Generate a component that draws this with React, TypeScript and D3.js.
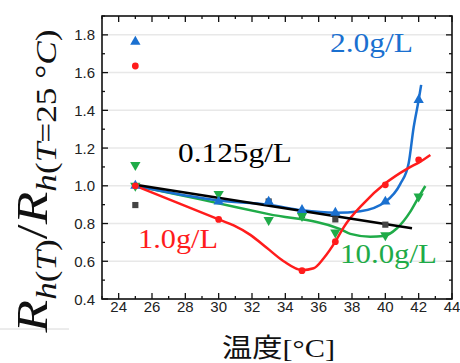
import React from "react";
import * as d3 from "d3";

// axis ticks
const xTickLabels = [24, 26, 28, 30, 32, 34, 36, 38, 40, 42, 44];
const yTickLabels = [0.4, 0.6, 0.8, 1.0, 1.2, 1.4, 1.6, 1.8];

// measured points [temp, ratio]
const blueMarks = [[25, 1.0], [30, 0.916], [33, 0.916], [35, 0.872], [37, 0.857], [40, 0.916], [42, 1.455]];
const redMarks = [[25, 1.0], [30, 0.822], [35, 0.55], [37, 0.704], [40, 1.005], [42, 1.138]];
const greenMarks = [[25, 1.0], [30, 0.957], [33, 0.819], [35, 0.84], [37, 0.752], [40, 0.738], [42, 0.943]];
const blackMarks = [[33, 0.917], [35, 0.845], [37, 0.822], [40, 0.794]];
// first readings at 25 C (before normalising)
const firstBlue = [[25, 1.764]];
const firstRed = [[25, 1.635]];
const firstGreen = [[25, 1.11]];
const firstBlack = [[25, 0.898]];

// fitted curves
const blueFit = [[25, 1.0], [30, 0.922], [33, 0.9], [35, 0.87], [37, 0.857], [38.5, 0.865], [40, 0.915], [40.9, 1.01], [41.4, 1.12], [41.7, 1.31], [42.0, 1.455], [42.15, 1.535]];
const redFit = [[25, 1.0], [30, 0.822], [30.9, 0.79], [31.9, 0.74], [32.9, 0.67], [33.9, 0.6], [35, 0.553], [35.7, 0.563], [36.3, 0.616], [37, 0.704], [37.5, 0.78], [38.7, 0.907], [40, 1.013], [41.3, 1.09], [42.1, 1.128], [42.7, 1.163]];
const greenFit = [[25, 1.0], [28.9, 0.928], [33, 0.85], [37.3, 0.77], [37.9, 0.745], [39.1, 0.73], [39.9, 0.734], [40.7, 0.775], [41.5, 0.863], [42.0, 0.94], [42.4, 0.999]];
const blackFit = [[25, 1.005], [41.6, 0.775]];

const BLUE = "#1a70d0";
const RED = "#ff1c1c";
const GREEN = "#1fab48";

export default function App() {
  const width = 460, height = 363;
  const x = d3.scaleLinear().domain([23, 44]).range([102, 452]);
  const y = d3.scaleLinear().domain([0.4, 1.9]).range([299, 16]);

  const line = d3.line().x((d) => x(d[0])).y((d) => y(d[1])).curve(d3.curveMonotoneX);
  const straight = d3.line().x((d) => x(d[0])).y((d) => y(d[1]));

  const tri = d3.symbol(d3.symbolTriangle, 46)();
  const circ = d3.symbol(d3.symbolCircle, 36)();
  const sq = d3.symbol(d3.symbolSquare, 38)();

  const xMinor = d3.range(23, 45, 1);
  const yMinor = d3.range(0.4, 1.91, 0.1);

  const marks = (data, path, color, rot = 0) =>
    data.map((d, i) => (
      <path key={i} d={path} fill={color}
        transform={`translate(${x(d[0])},${y(d[1])}) rotate(${rot})`} />
    ));

  return (
    <svg width={width} height={height} style={{ position: "absolute", left: 0, top: 0 }}>
      <rect width={width} height={height} fill="#fff" />
      {/* grid */}
      {yTickLabels.map((v) => (
        <line key={v} x1={x(23)} x2={x(44)} y1={y(v)} y2={y(v)} stroke="#e8e8e8" strokeWidth={1.5} />
      ))}
      <line x1={0} x2={69} y1={329} y2={329} stroke="#d8d8d8" strokeWidth={1} />

      {/* curves */}
      <path d={line(greenFit)} fill="none" stroke={GREEN} strokeWidth={2.5} />
      <path d={line(blueFit)} fill="none" stroke={BLUE} strokeWidth={2.5} />
      <path d={line(redFit)} fill="none" stroke={RED} strokeWidth={2.5} />
      <path d={straight(blackFit)} fill="none" stroke="#000" strokeWidth={2.5} />

      {marks(blackMarks, sq, "#444")}
      {marks(firstBlack, sq, "#444")}
      {marks(greenMarks, tri, GREEN, 180)}
      {marks(firstGreen, tri, GREEN, 180)}
      {marks(blueMarks, tri, BLUE)}
      {marks(firstBlue, tri, BLUE)}
      {marks(redMarks, circ, RED)}
      {marks(firstRed, circ, RED)}

      {/* frame and ticks */}
      <rect x={x(23)} y={y(1.9)} width={x(44) - x(23)} height={y(0.4) - y(1.9)} fill="none" stroke="#111" strokeWidth={1.6} />
      {xMinor.map((v) => {
        const len = v % 2 === 0 ? 6 : 3;
        return (
          <g key={v}>
            <line x1={x(v)} x2={x(v)} y1={y(0.4)} y2={y(0.4) - len} stroke="#111" strokeWidth={1.3} />
            <line x1={x(v)} x2={x(v)} y1={y(1.9)} y2={y(1.9) + len} stroke="#111" strokeWidth={1.3} />
          </g>
        );
      })}
      {yMinor.map((v, i) => {
        const len = i % 2 === 0 ? 6 : 3;
        return (
          <g key={i}>
            <line x1={x(23)} x2={x(23) + len} y1={y(v)} y2={y(v)} stroke="#111" strokeWidth={1.3} />
            <line x1={x(44)} x2={x(44) - len} y1={y(v)} y2={y(v)} stroke="#111" strokeWidth={1.3} />
          </g>
        );
      })}

      {/* tick labels */}
      <g fontFamily="'Liberation Sans', Arial, sans-serif" fontSize={15} fill="#222">
        {xTickLabels.map((v) => (
          <text key={v} x={x(v)} y={312} textAnchor="middle">{v}</text>
        ))}
        {yTickLabels.map((v) => (
          <text key={v} x={95} y={y(v) + 5.5} textAnchor="end">{v.toFixed(1)}</text>
        ))}
      </g>

      {/* series labels */}
      <g fontFamily="'Liberation Serif', 'Times New Roman', serif" fontSize={27}>
        <text x={330} y={51.7} fill={BLUE} textLength={83} lengthAdjust="spacingAndGlyphs">2.0g/L</text>
        <text x={178} y={161.7} fill="#000" textLength={114} lengthAdjust="spacingAndGlyphs">0.125g/L</text>
        <text x={138} y={248.3} fill={RED} textLength={80} lengthAdjust="spacingAndGlyphs">1.0g/L</text>
        <text x={340} y={263.3} fill={GREEN} textLength={97} lengthAdjust="spacingAndGlyphs">10.0g/L</text>
      </g>

      {/* axis titles */}
      <text x={222} y={357} fontSize={26} fill="#111" textLength={113} lengthAdjust="spacingAndGlyphs">
        <tspan fontFamily="'Noto Sans CJK JP', sans-serif">温度</tspan>
        <tspan fontFamily="'Liberation Serif', serif">[°C]</tspan>
      </text>
      <text transform="translate(47,181) rotate(-90)" textAnchor="middle" fontFamily="'Liberation Serif', serif"
        fontSize={44} fill="#111" textLength={303} lengthAdjust="spacingAndGlyphs">
        <tspan fontStyle="italic">R</tspan>
        <tspan fontSize={29} dy={9}><tspan fontStyle="italic">h</tspan>(<tspan fontStyle="italic">T</tspan>)</tspan>
        <tspan dy={-9}>/</tspan>
        <tspan fontStyle="italic">R</tspan>
        <tspan fontSize={29} dy={9}><tspan fontStyle="italic">h</tspan>(<tspan fontStyle="italic">T</tspan>=25 °<tspan fontStyle="italic">C</tspan>)</tspan>
      </text>
    </svg>
  );
}
